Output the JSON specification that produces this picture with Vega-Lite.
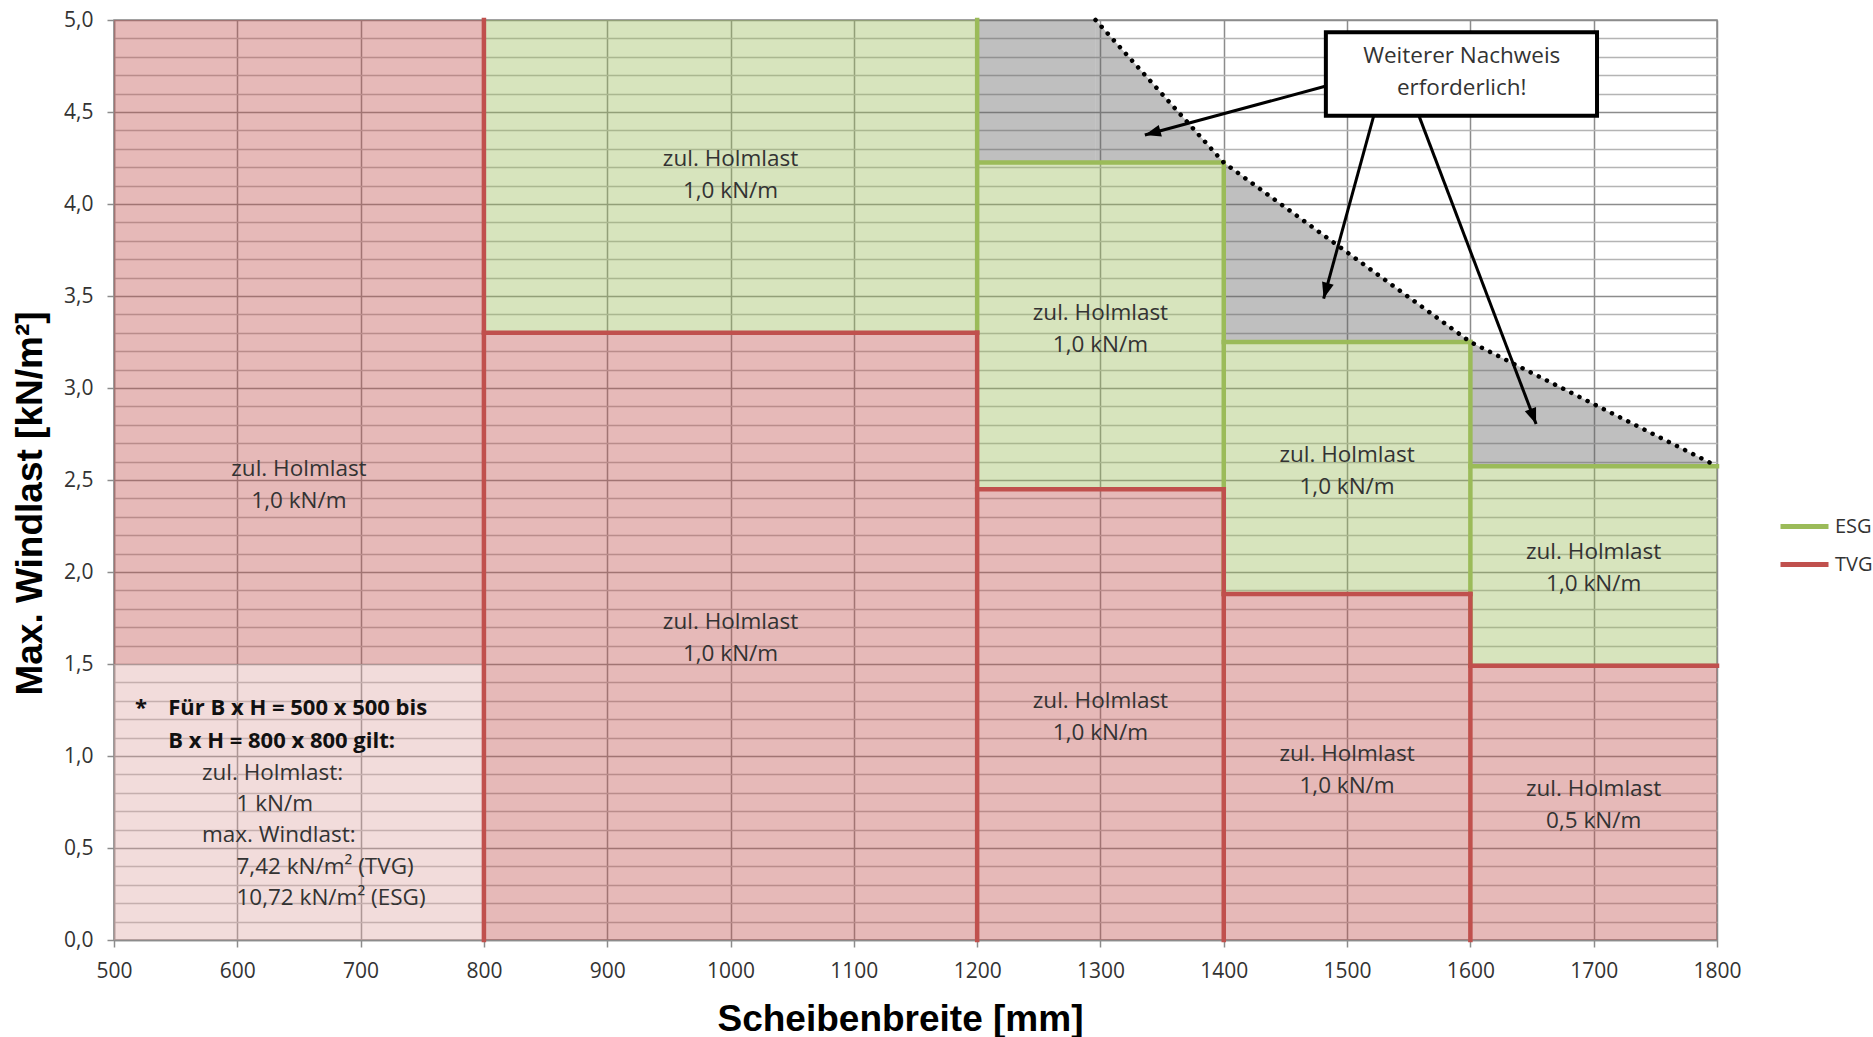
{
  "$schema": "https://vega.github.io/schema/vega-lite/v6.json",
  "autosize": "none",
  "padding": {"left": 114, "top": 20, "right": 156, "bottom": 97},
  "width": 1603,
  "height": 920,
  "background": "white",
  "config": {
    "font": "Open Sans",
    "view": {"stroke": "#8C8C8C", "strokeWidth": 1.5},
    "text": {"font": "Open Sans", "fontSize": 22.5, "color": "#333333"}
  },
  "datasets": {
    "fills": [
      {"x": 500, "x2": 800, "y": 1.5, "y2": 5.0, "kind": "TVG"},
      {"x": 500, "x2": 800, "y": 0.0, "y2": 1.5, "kind": "light"},
      {"x": 800, "x2": 1200, "y": 0.0, "y2": 3.3, "kind": "TVG"},
      {"x": 1200, "x2": 1400, "y": 0.0, "y2": 2.45, "kind": "TVG"},
      {"x": 1400, "x2": 1600, "y": 0.0, "y2": 1.88, "kind": "TVG"},
      {"x": 1600, "x2": 1800, "y": 0.0, "y2": 1.49, "kind": "TVG"},
      {"x": 800, "x2": 1200, "y": 3.3, "y2": 5.0, "kind": "ESG"},
      {"x": 1200, "x2": 1400, "y": 2.45, "y2": 4.225, "kind": "ESG"},
      {"x": 1400, "x2": 1600, "y": 1.88, "y2": 3.25, "kind": "ESG"},
      {"x": 1600, "x2": 1800, "y": 1.49, "y2": 2.575, "kind": "ESG"},
      {"x": 1200, "x2": 1296, "y": 4.225, "y2": 5.0, "kind": "gray"}
    ],
    "grayArea": [
      {"seg": "a", "x": 1296, "y": 5.0, "y2": 4.225},
      {"seg": "a", "x": 1400, "y": 4.225, "y2": 4.225},
      {"seg": "b", "x": 1400, "y": 4.225, "y2": 3.25},
      {"seg": "b", "x": 1600, "y": 3.25, "y2": 3.25},
      {"seg": "c", "x": 1600, "y": 3.25, "y2": 2.575},
      {"seg": "c", "x": 1800, "y": 2.575, "y2": 2.575}
    ],
    "limit": [
      {"x": 1296, "y": 5.0},
      {"x": 1400, "y": 4.225},
      {"x": 1600, "y": 3.25},
      {"x": 1800, "y": 2.575}
    ],
    "segments": [
      {"series": "ESG", "x": 1200, "x2": 1200, "y": 3.3, "y2": 5.0},
      {"series": "ESG", "x": 1200, "x2": 1400, "y": 4.225, "y2": 4.225},
      {"series": "ESG", "x": 1400, "x2": 1400, "y": 1.88, "y2": 4.225},
      {"series": "ESG", "x": 1400, "x2": 1600, "y": 3.25, "y2": 3.25},
      {"series": "ESG", "x": 1600, "x2": 1600, "y": 1.49, "y2": 3.25},
      {"series": "ESG", "x": 1600, "x2": 1800, "y": 2.575, "y2": 2.575},
      {"series": "TVG", "x": 800, "x2": 800, "y": 0.0, "y2": 5.0},
      {"series": "TVG", "x": 800, "x2": 1200, "y": 3.3, "y2": 3.3},
      {"series": "TVG", "x": 1200, "x2": 1200, "y": 0.0, "y2": 3.3},
      {"series": "TVG", "x": 1200, "x2": 1400, "y": 2.45, "y2": 2.45},
      {"series": "TVG", "x": 1400, "x2": 1400, "y": 0.0, "y2": 2.45},
      {"series": "TVG", "x": 1400, "x2": 1600, "y": 1.88, "y2": 1.88},
      {"series": "TVG", "x": 1600, "x2": 1600, "y": 0.0, "y2": 1.88},
      {"series": "TVG", "x": 1600, "x2": 1800, "y": 1.49, "y2": 1.49}
    ],
    "labels": [
      {"x": 650, "y": 2.56, "t": "zul. Holmlast\n1,0 kN/m"},
      {"x": 1000, "y": 4.245, "t": "zul. Holmlast\n1,0 kN/m"},
      {"x": 1000, "y": 1.73, "t": "zul. Holmlast\n1,0 kN/m"},
      {"x": 1300, "y": 3.41, "t": "zul. Holmlast\n1,0 kN/m"},
      {"x": 1300, "y": 1.30, "t": "zul. Holmlast\n1,0 kN/m"},
      {"x": 1500, "y": 2.635, "t": "zul. Holmlast\n1,0 kN/m"},
      {"x": 1500, "y": 1.01, "t": "zul. Holmlast\n1,0 kN/m"},
      {"x": 1700, "y": 2.11, "t": "zul. Holmlast\n1,0 kN/m"},
      {"x": 1700, "y": 0.82, "t": "zul. Holmlast\n0,5 kN/m"}
    ],
    "noteHead": [
      {"x": 517, "y": 1.259, "t": "*"},
      {"x": 544, "y": 1.259, "t": "Für B x H = 500 x 500 bis"},
      {"x": 544, "y": 1.084, "t": "B x H = 800 x 800 gilt:"}
    ],
    "noteBody": [
      {"x": 571.3, "y": 0.909, "t": "zul. Holmlast:"},
      {"x": 599.3, "y": 0.74, "t": "1 kN/m"},
      {"x": 571.3, "y": 0.571, "t": "max. Windlast:"},
      {"x": 599.3, "y": 0.396, "t": "7,42 kN/m² (TVG)"},
      {"x": 599.3, "y": 0.227, "t": "10,72 kN/m² (ESG)"}
    ],
    "arrows": [
      {"x": 1336, "y": 4.375, "x2": 1483, "y2": 4.641},
      {"x": 1481, "y": 3.486, "x2": 1521.6, "y2": 4.479},
      {"x": 1653.3, "y": 2.804, "x2": 1558.3, "y2": 4.479}
    ],
    "box": [
      {"x": 1482.8, "x2": 1702.7, "y": 4.479, "y2": 4.933}
    ],
    "boxText": [
      {"x": 1593, "y": 4.804, "t": "Weiterer Nachweis\nerforderlich!"}
    ]
  },
  "encoding": {
    "x": {
      "field": "x", "type": "quantitative",
      "scale": {"domain": [500, 1800], "nice": false, "zero": false},
      "axis": {
        "values": [500, 600, 700, 800, 900, 1000, 1100, 1200, 1300, 1400, 1500, 1600, 1700, 1800],
        "format": "d",
        "grid": true, "gridColor": "#8C8C8C", "gridWidth": 1.5,
        "domainColor": "#8C8C8C", "domainWidth": 1.5,
        "tickColor": "#8C8C8C", "tickSize": 7, "tickWidth": 1.5,
        "labelFont": "Open Sans", "labelFontSize": 21, "labelColor": "#333333", "labelPadding": 13,
        "labelOverlap": false, "labelFlush": false,
        "title": "Scheibenbreite [mm]",
        "titleFont": "Liberation Sans", "titleFontWeight": "bold", "titleFontSize": 37, "titleColor": "#000000",
        "titleX": 786, "titleY": 79, "titleBaseline": "middle", "titleAlign": "center"
      }
    },
    "y": {
      "field": "y", "type": "quantitative",
      "scale": {"domain": [0, 5], "nice": false, "zero": false},
      "axis": {
        "values": [0, 0.1, 0.2, 0.3, 0.4, 0.5, 0.6, 0.7, 0.8, 0.9, 1.0, 1.1, 1.2, 1.3, 1.4, 1.5, 1.6, 1.7, 1.8, 1.9, 2.0, 2.1, 2.2, 2.3, 2.4, 2.5, 2.6, 2.7, 2.8, 2.9, 3.0, 3.1, 3.2, 3.3, 3.4, 3.5, 3.6, 3.7, 3.8, 3.9, 4.0, 4.1, 4.2, 4.3, 4.4, 4.5, 4.6, 4.7, 4.8, 4.9, 5.0],
        "labelExpr": "abs(datum.value*2 - round(datum.value*2)) < 0.001 ? replace(format(datum.value, '.1f'), '.', ',') : ''",
        "grid": true,
        "gridColor": {"condition": {"test": "abs(datum.value*2 - round(datum.value*2)) < 0.001", "value": "#8C8C8C"}, "value": "#B4B4B4"},
        "gridWidth": 1.5,
        "tickOpacity": {"condition": {"test": "abs(datum.value*2 - round(datum.value*2)) < 0.001", "value": 1}, "value": 0},
        "domainColor": "#8C8C8C", "domainWidth": 1.5,
        "tickColor": "#8C8C8C", "tickSize": 7, "tickWidth": 1.5,
        "labelFont": "Open Sans", "labelFontSize": 21, "labelColor": "#333333", "labelPadding": 14,
        "labelOverlap": false, "labelFlush": false,
        "title": "Max. Windlast [kN/m²]",
        "titleFont": "Liberation Sans", "titleFontWeight": "bold", "titleFontSize": 37, "titleColor": "#000000",
        "titleX": -84, "titleY": 483, "titleBaseline": "middle", "titleAlign": "center", "titleAngle": -90
      }
    }
  },
  "layer": [
    {
      "data": {"name": "fills"},
      "mark": {"type": "rect", "fillOpacity": 0.4, "strokeWidth": 0},
      "encoding": {
        "x2": {"field": "x2"},
        "y2": {"field": "y2"},
        "fill": {"field": "kind", "type": "nominal", "scale": {"domain": ["TVG", "ESG", "light", "gray"], "range": ["#C0504D", "#9BBB59", "#DEA7A5", "#5F5F5F"]}, "legend": null}
      }
    },
    {
      "data": {"name": "grayArea"},
      "mark": {"type": "area", "fill": "#5F5F5F", "fillOpacity": 0.4, "interpolate": "linear", "orient": "vertical"},
      "encoding": {
        "y2": {"field": "y2"},
        "detail": {"field": "seg", "type": "nominal"}
      }
    },
    {
      "data": {"name": "segments"},
      "mark": {"type": "rule", "strokeWidth": 4.5, "strokeCap": "square"},
      "encoding": {
        "x2": {"field": "x2"},
        "y2": {"field": "y2"},
        "stroke": {
          "field": "series", "type": "nominal",
          "scale": {"domain": ["ESG", "TVG"], "range": ["#9BBB59", "#C0504D"]},
          "legend": {
            "title": null, "orient": "none", "legendX": 1664, "legendY": 480,
            "symbolType": "stroke", "symbolSize": 2304, "symbolStrokeWidth": 5,
            "labelFont": "Open Sans", "labelFontSize": 20, "labelColor": "#333333",
            "labelOffset": 4, "rowPadding": 1
          }
        }
      }
    },
    {
      "data": {"name": "limit"},
      "mark": {"type": "line", "color": "#000000", "strokeWidth": 4.5, "strokeCap": "round", "strokeDash": [0.1, 9]},
      "encoding": {}
    },
    {
      "data": {"name": "labels"},
      "mark": {"type": "text", "align": "center", "baseline": "middle", "lineBreak": "\n", "lineHeight": 32},
      "encoding": {"text": {"field": "t"}}
    },
    {
      "data": {"name": "noteHead"},
      "mark": {"type": "text", "align": "left", "baseline": "middle", "fontWeight": "bold", "fontSize": 22, "color": "#111111"},
      "encoding": {"text": {"field": "t"}}
    },
    {
      "data": {"name": "noteBody"},
      "mark": {"type": "text", "align": "left", "baseline": "middle"},
      "encoding": {"text": {"field": "t"}}
    },
    {
      "data": {"name": "arrows"},
      "mark": {"type": "rule", "color": "#000000", "strokeWidth": 3},
      "encoding": {"x2": {"field": "x2"}, "y2": {"field": "y2"}}
    },
    {
      "data": {"name": "arrows"},
      "transform": [
        {"calculate": "atan2((datum.x - datum.x2) * 1603 / 1300, (datum.y - datum.y2) * 184) * 180 / PI", "as": "ang"}
      ],
      "mark": {"type": "point", "shape": "M0,0L0.75,2L-0.75,2Z", "filled": true, "color": "#000000", "opacity": 1, "size": 256},
      "encoding": {"angle": {"field": "ang", "type": "quantitative", "scale": null}}
    },
    {
      "data": {"name": "box"},
      "mark": {"type": "rect", "fill": "#FFFFFF", "stroke": "#000000", "strokeWidth": 4},
      "encoding": {"x2": {"field": "x2"}, "y2": {"field": "y2"}}
    },
    {
      "data": {"name": "boxText"},
      "mark": {"type": "text", "align": "center", "baseline": "middle", "lineBreak": "\n", "lineHeight": 32},
      "encoding": {"text": {"field": "t"}}
    }
  ]
}
